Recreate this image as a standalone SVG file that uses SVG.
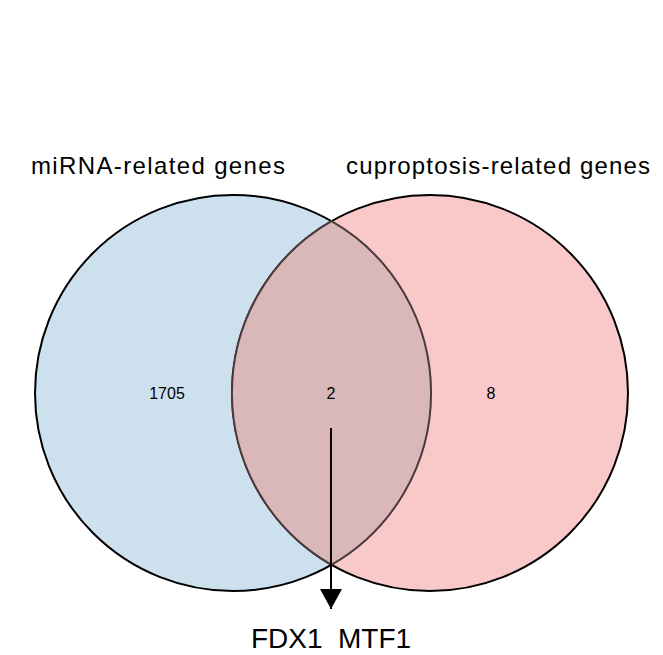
<svg xmlns="http://www.w3.org/2000/svg" width="663" height="655" viewBox="0 0 663 655">
<style>
text{font-family:"Liberation Sans",Arial,sans-serif;fill:#000}
.c{stroke:#000;stroke-width:2}
.n{font-size:16px;text-anchor:middle}
.t{font-size:24px;text-anchor:middle}
</style>
<defs>
<marker id="ah2" markerWidth="24" markerHeight="24" refX="20" refY="12" orient="auto" markerUnits="userSpaceOnUse"><path d="M0,1 L20,12 L0,23 z" fill="#000"/></marker></defs>
<rect width="663" height="655" fill="#fff"/>
<g id="left"><circle class="c" cx="233" cy="393" r="198" fill="#cce0ee"/></g>
<g id="right"><circle class="c" cx="430" cy="393" r="198" fill="#f9c8c8"/></g>
<g id="overlap"><path d="M331.5,221.2 A198,198 0 0,1 331.5,564.8 A198,198 0 0,1 331.5,221.2 Z" fill="#dab8ba" stroke="#4a3a3a" stroke-width="2"/></g>
<text class="t" x="158" y="174" textLength="254">miRNA-related genes</text>
<text class="t" x="498" y="174" textLength="304">cuproptosis-related genes</text>
<text class="n" x="167" y="399">1705</text>
<text class="n" x="331" y="399">2</text>
<text class="n" x="491" y="399">8</text>
<g id="connectors"><line x1="331" y1="428" x2="331" y2="609" stroke="#000" stroke-width="2" marker-end="url(#ah2)"/></g>
<text x="331" y="648" text-anchor="middle" style="font-size:28px" xml:space="preserve">FDX1  MTF1</text>
</svg>
